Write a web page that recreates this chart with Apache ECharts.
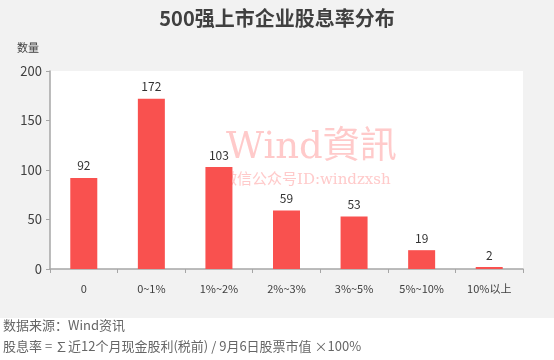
<!DOCTYPE html>
<html><head><meta charset="utf-8">
<script src="https://cdn.jsdelivr.net/npm/echarts@6/dist/echarts.min.js"></script>
<style>html,body{margin:0;padding:0;background:#fff}#c{width:554px;height:360px}</style>
</head><body><div id="c"></div>
<script>
var categories = ['0', '0~1%', '1%~2%', '2%~3%', '3%~5%', '5%~10%', '10%以上'];
var counts = [92, 172, 103, 59, 53, 19, 2];
var yTicks = { min: 0, max: 200, interval: 50 };

var chart = echarts.init(document.getElementById('c'), null, { renderer: 'canvas' });
var cjk = '"Microsoft YaHei","Noto Sans CJK SC","Noto Sans",sans-serif';
chart.setOption({
  backgroundColor: '#ffffff',
  animation: false,
  graphic: [
    { type: 'rect', z: -10, silent: true, shape: { x: 0, y: 0, width: 554, height: 318 }, style: { fill: '#f2f2f2' } },
    { type: 'text', left: 'center', top: 8, style: { text: '500强上市企业股息率分布', font: 'bold 20px ' + cjk, fill: '#404040' } },
    { type: 'text', left: 17, top: 42, style: { text: '数量', font: '11px ' + cjk, fill: '#404040' } },
    { type: 'text', left: 226, top: 130, z: 1, style: { text: 'Wind資訊', font: '37px "DejaVu Serif","Noto Sans CJK TC",serif', fill: '#ffcaca' } },
    { type: 'text', left: 222, top: 173, z: 1, style: { text: '微信公众号ID:windzxsh', font: '15px "DejaVu Serif","Noto Sans CJK SC",serif', fill: '#ffcaca' } },
    { type: 'text', left: 3, top: 319, style: { text: '数据来源：Wind资讯', font: '13px ' + cjk, fill: '#666666' } },
    { type: 'text', left: 3, top: 340, style: { text: '股息率 = ∑近12个月现金股利(税前) / 9月6日股票市值 ×100%', font: '13px ' + cjk, fill: '#666666' } }
  ],
  grid: { left: 50, right: 31, top: 71, bottom: 91, show: true, backgroundColor: '#ffffff', borderWidth: 0 },
  xAxis: {
    type: 'category',
    data: categories,
    axisLine: { lineStyle: { color: '#a6a6a6', width: 1.5 } },
    axisTick: { show: true, length: 4, lineStyle: { color: '#a6a6a6' } },
    axisLabel: { color: '#404040', fontSize: 11, margin: 14, fontFamily: cjk }
  },
  yAxis: {
    type: 'value',
    min: yTicks.min, max: yTicks.max, interval: yTicks.interval,
    axisLine: { show: true, lineStyle: { color: '#a6a6a6', width: 1.5 } },
    axisTick: { show: true, length: 4, lineStyle: { color: '#a6a6a6' } },
    splitLine: { show: false },
    axisLabel: { color: '#404040', fontSize: 13, margin: 8, fontFamily: cjk }
  },
  series: [{
    type: 'bar',
    z: 5,
    data: counts,
    barWidth: 27,
    itemStyle: { color: '#f9514f' },
    label: { show: true, position: 'top', distance: 6, color: '#333333', fontSize: 12, fontFamily: cjk }
  }]
});
</script></body></html>
